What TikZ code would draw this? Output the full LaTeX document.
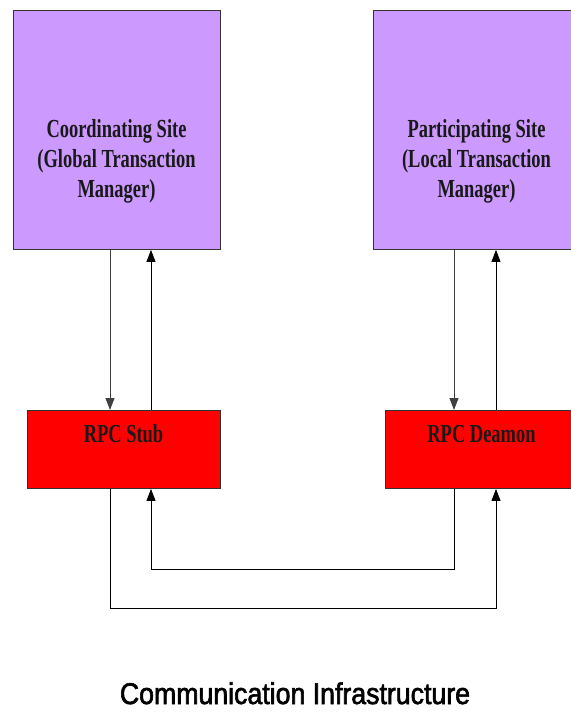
\documentclass[tikz,border=0pt]{standalone}
\usepackage{fontspec}
\usetikzlibrary{arrows.meta}
\newfontfamily\boxfont[FakeStretch=0.71]{Liberation Serif}
\newfontfamily\capfont[FakeStretch=0.89,FakeBold=2]{Liberation Sans}
\definecolor{sitepurple}{RGB}{204,153,255}
\definecolor{rpcred}{RGB}{255,0,0}
\tikzset{
  sitebox/.style={draw=black!80, line width=0.9pt, fill=sitepurple, minimum width=207pt, minimum height=239pt, anchor=north west, inner sep=0pt},
  rpcbox/.style={draw=black!80, line width=0.9pt, fill=rpcred, minimum width=193pt, minimum height=78pt, anchor=north west, inner sep=0pt},
  boxtext/.style={font=\boxfont\bfseries\fontsize{26}{30}\selectfont, align=center, text=black!90, inner sep=0pt},
  capt/.style={font=\capfont\fontsize{30}{34}\selectfont, inner sep=0pt, anchor=base},
  arr/.style={line width=0.9pt, -{Triangle[length=12pt,width=9pt]}},
  plain/.style={line width=0.9pt}
}
\begin{document}
\begin{tikzpicture}[x=1pt,y=-1pt]
\useasboundingbox (0,0) rectangle (571,716);
\clip (0,0) rectangle (571,716);
\node[sitebox] (cs) at (13,10) {};
\node[sitebox] (ps) at (373,10) {};
\node[rpcbox] (stub) at (27,410) {};
\node[rpcbox] (dm) at (385,410) {};
\node[boxtext] (cst) at (116.5,161) {Coordinating Site\\(Global Transaction\\Manager)};
\node[boxtext] (pst) at (476.5,161) {Participating Site\\(Local Transaction\\Manager)};
\node[boxtext, anchor=base] (stubt) at (123.5,442) {RPC Stub};
\node[boxtext, anchor=base] (dmt) at (481.5,442) {RPC Deamon};
\node[capt] (ci) at (295,704) {Communication Infrastructure};
\coordinate (xa) at (110,0);
\coordinate (xb) at (151,0);
\coordinate (xc) at (454,0);
\coordinate (xd) at (496,0);
\coordinate (ylow) at (0,608);
\coordinate (yhigh) at (0,569);
\draw[arr, black!75] (cs.south -| xa) -- (stub.north -| xa);
\draw[arr] (stub.north -| xb) -- (cs.south -| xb);
\draw[arr, black!75] (ps.south -| xc) -- (dm.north -| xc);
\draw[arr] (dm.north -| xd) -- (ps.south -| xd);
\draw[arr] (stub.south -| xa) |- (xd |- ylow) -- (dm.south -| xd);
\draw[arr] (dm.south -| xc) |- (xb |- yhigh) -- (stub.south -| xb);
\end{tikzpicture}
\end{document}
